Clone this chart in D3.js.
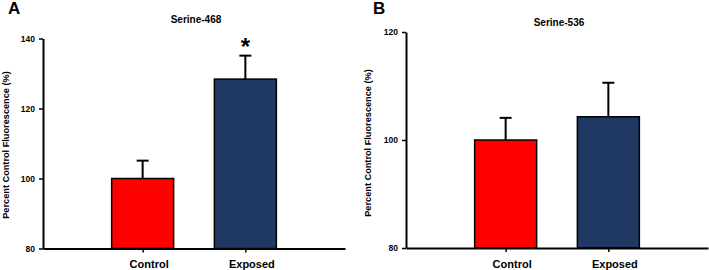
<!DOCTYPE html>
<html>
<head>
<meta charset="utf-8">
<script src="https://cdn.jsdelivr.net/npm/d3@7"></script>
<style>
  body { margin: 0; background: #fff; }
  text { font-family: "Liberation Sans", Arial, sans-serif; font-weight: bold; }
</style>
</head>
<body>
<div id="chart"></div>
<script>
const groups = ["Control", "Exposed"];
const colors = ["#FF0000", "#1F3864"];

const s468Means = [100, 128.4];
const s468Errs = [5.1, 6.7];
const s468Ticks = [80, 100, 120, 140];

const s536Means = [100, 104.3];
const s536Errs = [4.1, 6.3];
const s536Ticks = [80, 100, 120];

const svg = d3.select("#chart")
    .append("svg")
        .attr("width", 709)
        .attr("height", 270);

function drawPanel(opts) {
    const g = svg.append("g");

    const x = d3.scalePoint()
        .domain(groups)
        .range([opts.left, opts.right])
        .padding(0.97);

    const y = d3.scaleLinear()
        .domain([opts.ticks[0], opts.ticks[opts.ticks.length - 1]])
        .range([opts.bottom, opts.top]);

    const barW = 62;

    // bars
    g.selectAll(".bar")
        .data(groups)
        .join("rect")
            .attr("class", "bar")
            .attr("x", d => x(d) - barW / 2)
            .attr("y", (d, i) => y(opts.means[i]))
            .attr("width", barW)
            .attr("height", (d, i) => y(opts.ticks[0]) - y(opts.means[i]))
            .attr("fill", (d, i) => colors[i])
            .attr("stroke", "#000")
            .attr("stroke-width", 1.5);

    // error bars (upper only)
    g.selectAll(".err")
        .data(groups)
        .join("line")
            .attr("class", "err")
            .attr("x1", d => x(d))
            .attr("x2", d => x(d))
            .attr("y1", (d, i) => y(opts.means[i]))
            .attr("y2", (d, i) => y(opts.means[i] + opts.errs[i]))
            .attr("stroke", "#000")
            .attr("stroke-width", 2);

    g.selectAll(".cap")
        .data(groups)
        .join("line")
            .attr("class", "cap")
            .attr("x1", d => x(d) - 6)
            .attr("x2", d => x(d) + 6)
            .attr("y1", (d, i) => y(opts.means[i] + opts.errs[i]))
            .attr("y2", (d, i) => y(opts.means[i] + opts.errs[i]))
            .attr("stroke", "#000")
            .attr("stroke-width", 2);

    // axes
    const yAxis = g.append("g")
        .attr("transform", "translate(" + opts.left + ",0)")
        .call(d3.axisLeft(y).tickValues(opts.ticks).tickSize(4).tickSizeOuter(0));
    yAxis.select(".domain").attr("stroke-width", 2);
    yAxis.selectAll(".tick line").attr("stroke-width", 1.5);
    yAxis.selectAll(".tick text")
        .attr("x", -8)
        .style("font-size", "8.5px")
        .style("font-family", "Liberation Sans, Arial, sans-serif")
        .style("font-weight", "bold");

    const xAxis = g.append("g")
        .attr("transform", "translate(0," + opts.bottom + ")")
        .call(d3.axisBottom(x).tickSize(4).tickSizeOuter(0));
    xAxis.select(".domain").attr("stroke-width", 2);
    xAxis.selectAll(".tick line").attr("stroke-width", 1.5);
    xAxis.selectAll(".tick text")
        .attr("y", 12)
        .attr("dx", 6)
        .style("font-size", "11px")
        .style("font-family", "Liberation Sans, Arial, sans-serif")
        .style("font-weight", "bold");

    // title, axis label, panel letter
    g.append("text")
        .attr("x", opts.titleX)
        .attr("y", opts.titleY)
        .attr("text-anchor", "middle")
        .style("font-size", "10px")
        .text(opts.title);

    g.append("text")
        .attr("transform", "translate(" + opts.labelX + "," + opts.labelY + ") rotate(-90)")
        .attr("text-anchor", "middle")
        .attr("dominant-baseline", "middle")
        .style("font-size", "9.2px")
        .text("Percent Control Fluorescence (%)");

    g.append("text")
        .attr("x", opts.letterX)
        .attr("y", 14)
        .style("font-size", "17px")
        .text(opts.letter);

    if (opts.star) {
        g.append("text")
            .attr("x", x(groups[1]))
            .attr("y", y(opts.means[1] + opts.errs[1]) - 1)
            .attr("text-anchor", "middle")
            .style("font-size", "24px")
            .text("*");
    }
}

drawPanel({
    letter: "A", letterX: 8,
    title: "Serine-468", titleX: 196, titleY: 23,
    labelX: 7, labelY: 145,
    left: 43, right: 345, top: 38.5, bottom: 248.5,
    ticks: s468Ticks, means: s468Means, errs: s468Errs, star: true
});

drawPanel({
    letter: "B", letterX: 373,
    title: "Serine-536", titleX: 559, titleY: 26,
    labelX: 369, labelY: 143,
    left: 406, right: 708, top: 32, bottom: 248,
    ticks: s536Ticks, means: s536Means, errs: s536Errs, star: false
});
</script>
</body>
</html>
